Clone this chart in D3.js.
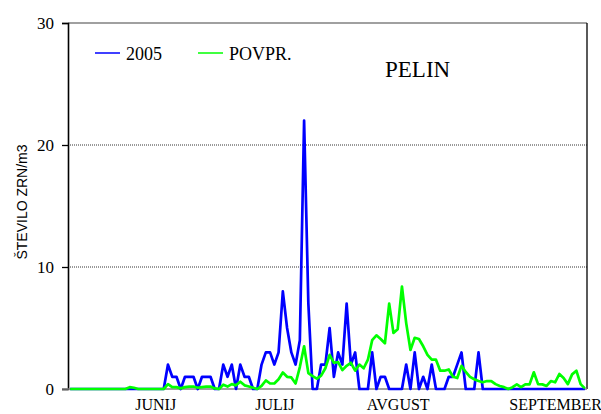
<!DOCTYPE html>
<html><head><meta charset="utf-8">
<script src="https://cdn.jsdelivr.net/npm/d3@7/dist/d3.min.js"></script>
<style>body{margin:0;background:#fff}svg{display:block}</style>
</head><body><svg id="c" width="601" height="414"></svg>
<script>
// day index of the season (122 days)
const days = d3.range(1, 123);
const series2005 = [
  0,0,0,0,0,0,0,0,0,0,
  0,0,0,0,0,0,0,0,0,0,
  0,0,0,2,1,1,0,1,1,1,
  0,1,1,1,0,0,2,1,2,0,
  2,1,1,0,0,2,3,3,2,3,
  8,5,3,2,4,22,7,0,0,2,
  2,5,1,3,2,7,2,3,0,0,
  0,3,0,1,1,0,0,0,0,2,
  0,3,0,1,0,2,0,0,0,1,
  1,2,3,0,0,0,3,0,0,0,
  0,0,0,0,0,0,0,0,0,0,
  0,0,0,0,0,0,0,0,0,0,
  0,0
];
const seriesAvg = [
  0,0,0,0,0,0,0,0,0,0,
  0,0,0,0,0.15,0.1,0,0,0,0,
  0,0,0,0.4,0.15,0.15,0.05,0.15,0.2,0.2,
  0.1,0.15,0.2,0.2,0.05,0,0.35,0.2,0.4,0.3,
  0.6,0.3,0.2,0.1,0,0.25,0.7,0.45,0.45,0.8,
  1.35,1.0,0.95,0.45,1.8,3.5,1.3,1.05,0.85,1.1,
  1.7,2.8,2.15,2.2,1.55,1.9,2.15,1.5,2.0,1.7,
  2.4,4.0,4.4,4.1,3.75,7.0,4.6,4.9,8.4,5.4,
  3.2,4.2,4.1,3.5,2.8,2.4,2.4,1.5,1.5,1.6,
  1.0,0.9,1.9,1.4,1.0,0.8,0.65,0.55,0.65,0.65,
  0.4,0.25,0.15,0,0.15,0.38,0.15,0.38,0.38,1.37,
  0.4,0.38,0.25,0.65,0.55,1.23,0.9,0.4,1.2,1.5,
  0.4,0.05
];
const yTicks = [0, 10, 20, 30];
const gridTicks = [10, 20];
const monthLabels = ["JUNIJ", "JULIJ", "AVGUST", "SEPTEMBER"];
const monthLabelDays = [21, 49, 78, 115];
const seriesNames = ["2005", "POVPR."];
const seriesColors = ["#0000ff", "#00ff00"];
const chartTitle = "PELIN";
const yTitle = "ŠTEVILO ZRN/m3";

const svg = d3.select("#c");
const L = 68, R = 587, T = 23, B = 389;
const x = d3.scalePoint().domain(days).range([L, R]).padding(0.5);
const y = d3.scaleLinear().domain([0, 30]).range([B, T]);

// gridlines
svg.append("g").selectAll("line").data(gridTicks).join("line")
  .attr("x1", L).attr("x2", R).attr("y1", d => y(d)).attr("y2", d => y(d))
  .attr("stroke", "#333").attr("stroke-width", 1).attr("stroke-dasharray", "1,1");

// plot frame: top gray, right black
svg.append("line").attr("x1", L).attr("x2", R).attr("y1", y(30)).attr("y2", y(30))
  .attr("stroke", "#808080").attr("stroke-width", 1.6);
svg.append("line").attr("x1", R).attr("x2", R).attr("y1", y(30)).attr("y2", y(0))
  .attr("stroke", "#000").attr("stroke-width", 1.3);

// y axis
const yAxis = svg.append("g").attr("transform", `translate(${L},0)`)
  .call(d3.axisLeft(y).tickValues(yTicks).tickSize(6).tickPadding(8).tickFormat(d3.format("d")));
yAxis.select(".domain").attr("stroke", "#000").attr("stroke-width", 1.6);
yAxis.selectAll(".tick line").attr("stroke", "#000").attr("stroke-width", 1.3);
yAxis.selectAll(".tick text").attr("font-family", "Liberation Serif, Times New Roman, serif")
  .attr("font-size", 17).attr("fill", "#000");

// x axis (category)
const xAxis = svg.append("g").attr("transform", `translate(0,${B})`)
  .call(d3.axisBottom(x).tickValues(monthLabelDays).tickSize(0).tickPadding(10)
    .tickFormat(d => monthLabels[monthLabelDays.indexOf(d)]));
xAxis.select(".domain").remove();
xAxis.selectAll(".tick text").attr("font-family", "Liberation Serif, Times New Roman, serif")
  .attr("font-size", 16).attr("fill", "#000");
svg.append("line").attr("x1", L - 6).attr("x2", R).attr("y1", B).attr("y2", B)
  .attr("stroke", "#808080").attr("stroke-width", 1.6);

// series
const line = d3.line().x((d, i) => x(days[i])).y(d => y(d));
[series2005, seriesAvg].forEach((s, k) => {
  svg.append("path").datum(s).attr("d", line)
    .attr("fill", "none").attr("stroke", seriesColors[k]).attr("stroke-width", 2.7)
    .attr("stroke-linejoin", "round");
});

// legend
const legX = [95, 198];
seriesNames.forEach((n, k) => {
  svg.append("line").attr("x1", legX[k]).attr("x2", legX[k] + 25).attr("y1", 53).attr("y2", 53)
    .attr("stroke", seriesColors[k]).attr("stroke-width", 1.5);
  svg.append("text").attr("x", legX[k] + 31).attr("y", 60).text(n)
    .attr("font-family", "Liberation Serif, Times New Roman, serif").attr("font-size", 18);
});

// title
svg.append("text").attr("x", 385).attr("y", 77).text(chartTitle)
  .attr("font-family", "Liberation Serif, Times New Roman, serif").attr("font-size", 23);

// y title
svg.append("text").attr("transform", "translate(27,202) rotate(-90)").attr("text-anchor", "middle")
  .text(yTitle).attr("font-family", "Liberation Sans, Arial, sans-serif").attr("font-size", 14);
</script>
</body></html>
